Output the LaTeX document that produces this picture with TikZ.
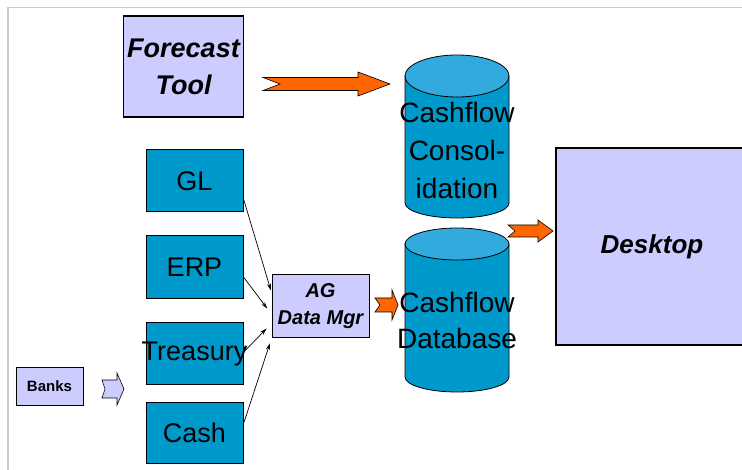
\documentclass[tikz,border=0pt]{standalone}
\usepackage{fontspec}
\setmainfont{Liberation Sans}
\usetikzlibrary{arrows.meta,calc}

\definecolor{lavender}{HTML}{CCCCFF}
\definecolor{srcblue}{HTML}{0099CC}
\definecolor{toplight}{HTML}{33AADD}
\definecolor{fatorange}{HTML}{FF6600}

\tikzset{
    toolbox/.style={draw, line width=1.2pt, fill=lavender, align=center,
        font=\bfseries\itshape},
    srcbox/.style={draw, line width=1pt, fill=srcblue, minimum width=97pt,
        font=\fontsize{27}{32}\selectfont},
    dbtext/.style={align=center, font=\fontsize{28}{38}\selectfont},
    feed/.style={-{Stealth[length=7pt,width=4pt]}, line width=0.7pt},
}

% block arrow with a notched tail: style, tail, tip, shaft half, head half, head length, notch
\newcommand{\notchedarrow}[7]{%
    \filldraw[#1] let \p1=(#2), \p2=(#3) in
        (\x1,\y1+#4) -- (\x2-#6,\y1+#4) -- (\x2-#6,\y1+#5) -- (\x2,\y1)
        -- (\x2-#6,\y1-#5) -- (\x2-#6,\y1-#4) -- (\x1,\y1-#4) -- (\x1+#7,\y1) -- cycle;}

\begin{document}
\begin{tikzpicture}[x=1pt, y=-1pt]
    \useasboundingbox (0,0) rectangle (742,470);
    \draw[black!20, line width=1.5pt] (8,470) -- (8,7.5) -- (742,7.5);

    % data stores
    \filldraw[fill=srcblue, line width=0.8pt] (405,76) -- (405,203)
        arc[start angle=180, end angle=0, x radius=52, y radius=15] -- (509,76) -- cycle;
    \filldraw[fill=toplight, line width=0.8pt] (457,76) ellipse (52 and 21);
    \filldraw[fill=srcblue, line width=0.8pt] (405,244) -- (405,377)
        arc[start angle=180, end angle=0, x radius=52, y radius=15] -- (509,244) -- cycle;
    \filldraw[fill=toplight, line width=0.8pt] (457,244) ellipse (52 and 16);
    \node[dbtext] (cons) at (457,150) {Cashflow\\Consol-\\idation};
    \node[dbtext, font=\fontsize{28}{36}\selectfont] (db) at (457,320) {Cashflow\\Database};

    \node[toolbox, minimum width=119pt, minimum height=101pt,
        font=\bfseries\itshape\fontsize{27}{37}\selectfont] (ft) at (183.5,66.5) {Forecast\\Tool};
    \node[toolbox, minimum width=192pt, minimum height=197pt,
        font=\bfseries\itshape\fontsize{26}{30}\selectfont] (desk) at (652,246.5) {\raisebox{-6pt}{Desktop}};
    \node[toolbox, minimum width=97pt, minimum height=63pt, line width=1pt,
        font=\bfseries\itshape\fontsize{20}{27}\selectfont] (ag) at (320.5,306.5) {AG\\Data Mgr};
    \node[toolbox, minimum width=67pt, minimum height=37pt, line width=1pt,
        font=\bfseries\fontsize{15}{18}\selectfont] (banks) at (49.5,386.5) {Banks};

    \node[srcbox, minimum height=62pt] (gl) at (194.5,181) {GL};
    \node[srcbox, minimum height=63pt] (erp) at (194.5,267.5) {ERP};
    \node[srcbox, minimum height=62pt] (treas) at (194.5,354) {\makebox[0pt]{Treasury}};
    \node[srcbox, minimum height=61pt] (cash) at (194.5,432.5) {Cash};

    \draw[feed, shorten >=2pt] (gl.-20) -- (ag.164);
    \draw[feed, shorten >=7pt] (erp.-11) -- (ag.189);
    \draw[feed, shorten >=7pt] (treas.2) -- (ag.199);
    \draw[feed, shorten >=5pt] (cash.10) -- (ag.south west);

    % fat arrows
    \coordinate (ftout) at (263,84);
    \coordinate (consin) at (390,84);
    \coordinate (agout) at (375,305);
    \coordinate (dbin) at (398,305);
    \coordinate (consout) at (508,231);
    \coordinate (deskin) at (553,231);
    \coordinate (banksout) at (102,389);
    \coordinate (treasin) at (124,389);
    \notchedarrow{fill=fatorange, line width=0.6pt}{ftout}{consin}{6.5pt}{12pt}{32pt}{17pt}
    \notchedarrow{fill=fatorange, line width=0.6pt}{agout}{dbin}{7pt}{15pt}{6pt}{5pt}
    \notchedarrow{fill=fatorange, line width=0.6pt}{consout}{deskin}{6pt}{11pt}{15pt}{7pt}
    \notchedarrow{fill=lavender, line width=0.6pt}{banksout}{treasin}{9pt}{16pt}{7pt}{3pt}
\end{tikzpicture}
\end{document}
